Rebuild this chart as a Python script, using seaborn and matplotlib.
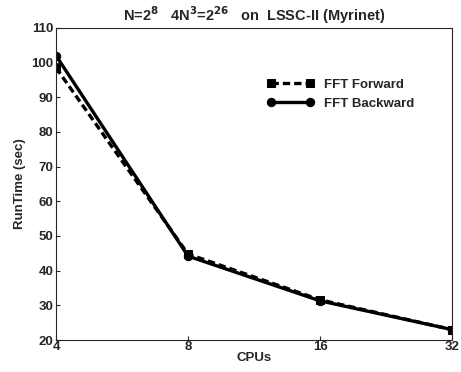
import matplotlib
matplotlib.use("Agg")
import matplotlib.pyplot as plt
import seaborn as sns
import pandas as pd

cpus = [4, 8, 16, 32]
fft_forward = [98.5, 44.8, 31.6, 23.0]
fft_backward = [102.0, 44.2, 31.3, 23.0]
series_names = ["FFT Forward", "FFT Backward"]

sns.set_style("ticks")
plt.rcParams['font.family'] = ['Liberation Sans', 'DejaVu Sans']
plt.rcParams['font.weight'] = 'bold'

df = pd.DataFrame({
    "CPUs": cpus * 2,
    "RunTime": fft_forward + fft_backward,
    "series": [series_names[0]] * 4 + [series_names[1]] * 4,
})

fig = plt.figure(figsize=(4.61, 3.72), dpi=100)
ax = fig.add_axes([0.1215, 0.086, 0.859, 0.839])

sns.lineplot(data=df, x="CPUs", y="RunTime", hue="series", style="series",
             palette=["black", "black"], dashes={series_names[0]: (2.2, 1.2), series_names[1]: ""},
             markers={series_names[0]: "s", series_names[1]: "o"},
             markersize=6, linewidth=2.4, ax=ax, markeredgecolor="black")

ax.set_xscale("log", base=2)
ax.set_xlim(4, 32)
ax.set_ylim(20, 110)
ax.set_xticks(cpus)
ax.set_xticklabels([str(c) for c in cpus])
ax.set_yticks(range(20, 111, 10))
ax.minorticks_off()
ax.tick_params(direction="in", length=3, labelsize=9.5, width=0.8)
ax.tick_params(axis="x", pad=1)
ax.tick_params(axis="y", pad=2)
for lab in ax.get_xticklabels() + ax.get_yticklabels():
    lab.set_fontweight("bold")
for s in ax.spines.values():
    s.set_linewidth(0.8)
    s.set_visible(True)

ax.set_xlabel("CPUs", fontsize=9.5, fontweight="bold", labelpad=-1)
ax.set_ylabel("RunTime (sec)", fontsize=9.5, fontweight="bold", labelpad=4)
ax.set_title(r"N=2$^{\mathbf{8}}$   4N$^{\mathbf{3}}$=2$^{\mathbf{26}}$   on  LSSC-II (Myrinet)",
             fontsize=10.5, fontweight="bold", pad=5)

leg = ax.legend(loc="upper right", bbox_to_anchor=(0.935, 0.875), frameon=False,
                fontsize=9.5, handlelength=3.5, labelspacing=0.5, title=None,
                numpoints=2)
for t in leg.get_texts():
    t.set_fontweight("bold")

fig.savefig("out.png", dpi=100)
